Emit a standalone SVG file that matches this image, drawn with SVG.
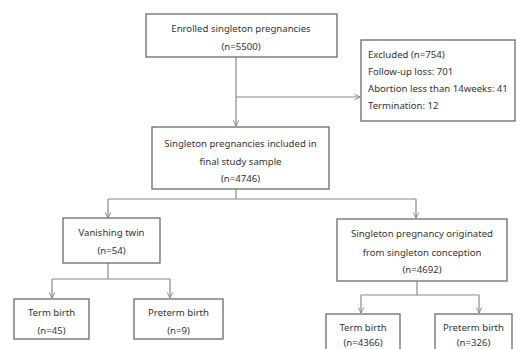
<svg xmlns="http://www.w3.org/2000/svg" width="517" height="349" viewBox="0 0 517 349">
<defs>
<style>
.box{fill:#fff;stroke:#6b6b6b;stroke-width:1.3}
.t{font-family:"Noto Sans","DejaVu Sans",sans-serif;font-size:9.6px;fill:#333;text-anchor:middle}
.tl{font-family:"Noto Sans","DejaVu Sans",sans-serif;font-size:9.6px;fill:#333}
.c{fill:none;stroke:#8a8a8a;stroke-width:1.2}
</style>
<marker id="arr" viewBox="0 0 10 10" refX="9" refY="5" markerWidth="7" markerHeight="7" orient="auto" markerUnits="userSpaceOnUse">
<path d="M1,1 L9,5 L1,9" fill="none" stroke="#8a8a8a" stroke-width="1.4"/>
</marker>
</defs>
<rect width="517" height="349" fill="#fff"/>
<g id="connectors">
<path class="c" d="M236,57 V126" marker-end="url(#arr)"/>
<path class="c" d="M236,97 H360" marker-end="url(#arr)"/>
<path class="c" d="M236,189 V199 M108,199 H416"/>
<path class="c" d="M108,199 V218" marker-end="url(#arr)"/>
<path class="c" d="M416,199 V218" marker-end="url(#arr)"/>
<path class="c" d="M108,263 V279 M52,279 H170"/>
<path class="c" d="M52,279 V298" marker-end="url(#arr)"/>
<path class="c" d="M170,279 V298" marker-end="url(#arr)"/>
<path class="c" d="M417,281 V295 M361,295 H479"/>
<path class="c" d="M361,295 V313" marker-end="url(#arr)"/>
<path class="c" d="M479,295 V313" marker-end="url(#arr)"/>
</g>
<g id="enrolled">
<rect class="box" x="146" y="14" width="191" height="43"/>
<text class="t" x="241" y="32">Enrolled singleton pregnancies</text>
<text class="t" x="241" y="50">(n=5500)</text>
</g>
<g id="excluded">
<rect class="box" x="361" y="40" width="154" height="81"/>
<text class="tl" x="368" y="58">Excluded (n=754)</text>
<text class="tl" x="368" y="75">Follow-up loss: 701</text>
<text class="tl" x="368" y="92">Abortion less than 14weeks: 41</text>
<text class="tl" x="368" y="109">Termination: 12</text>
</g>
<g id="included">
<rect class="box" x="152" y="127" width="177" height="62"/>
<text class="t" x="240.5" y="147">Singleton pregnancies included in</text>
<text class="t" x="240.5" y="165">final study sample</text>
<text class="t" x="240.5" y="182">(n=4746)</text>
</g>
<g id="vanishing">
<rect class="box" x="63" y="218" width="97" height="45"/>
<text class="t" x="111.5" y="236">Vanishing twin</text>
<text class="t" x="111.5" y="254">(n=54)</text>
</g>
<g id="singleton">
<rect class="box" x="337" y="219" width="170" height="62"/>
<text class="t" x="422" y="237">Singleton pregnancy originated</text>
<text class="t" x="422" y="256">from singleton conception</text>
<text class="t" x="422" y="273">(n=4692)</text>
</g>
<g id="term-left">
<rect class="box" x="14" y="299" width="75" height="40"/>
<text class="t" x="51.5" y="316">Term birth</text>
<text class="t" x="51.5" y="334">(n=45)</text>
</g>
<g id="preterm-left">
<rect class="box" x="134" y="299" width="89" height="40"/>
<text class="t" x="178.5" y="316">Preterm birth</text>
<text class="t" x="178.5" y="334">(n=9)</text>
</g>
<g id="term-right">
<rect class="box" x="326" y="314" width="74" height="42"/>
<text class="t" x="363" y="331">Term birth</text>
<text class="t" x="363" y="346">(n=4366)</text>
</g>
<g id="preterm-right">
<rect class="box" x="435" y="314" width="77" height="42"/>
<text class="t" x="473.5" y="331">Preterm birth</text>
<text class="t" x="473.5" y="346">(n=326)</text>
</g>
</svg>
